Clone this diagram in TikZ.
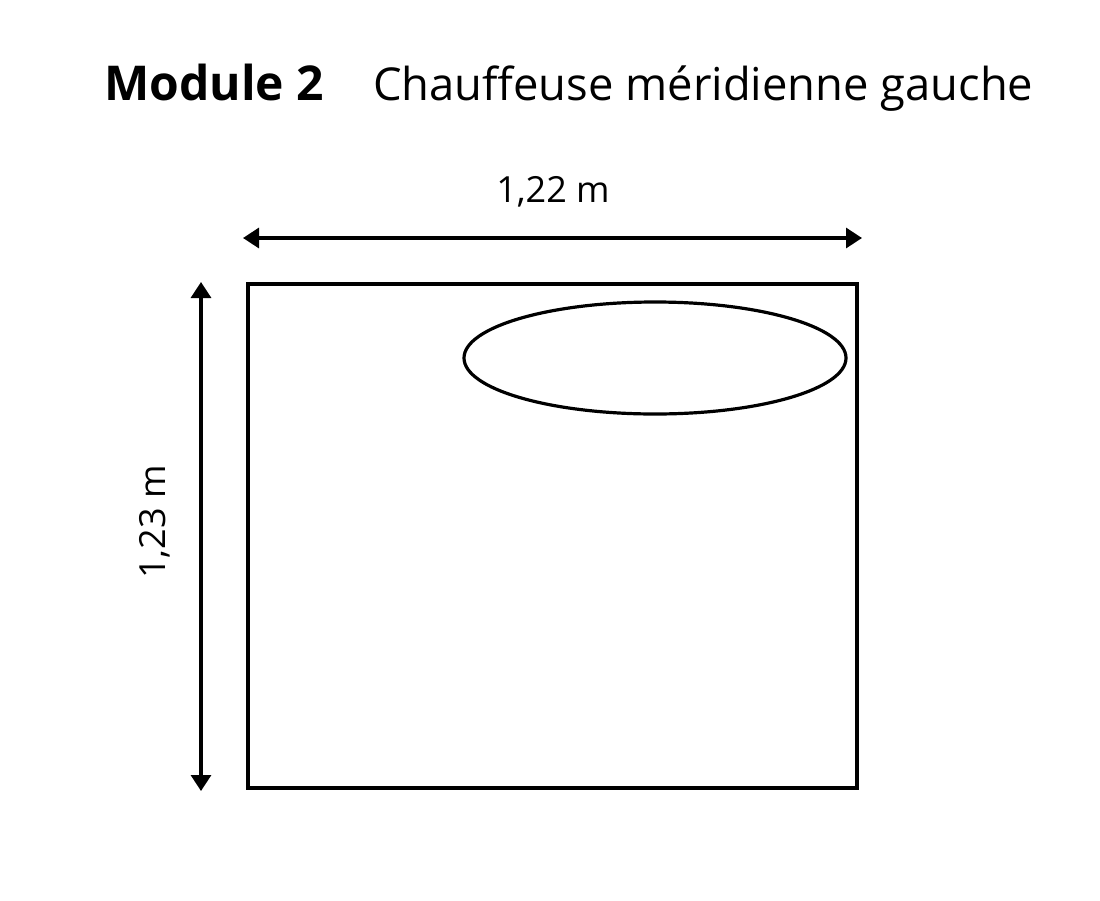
\documentclass[tikz,border=0pt]{standalone}
\usepackage{fontspec}
\setmainfont{Open Sans}
\usetikzlibrary{arrows.meta}

\tikzset{
  outline/.style={line width=2.4pt},
  dimarrow/.style={line width=2.4pt,{Triangle[length=12pt,width=15pt]}-{Triangle[length=12pt,width=15pt]}},
  dimlabel/.style={font=\fontsize{27}{32}\selectfont,inner sep=0pt}
}

\begin{document}
\begin{tikzpicture}[x=0.75pt,y=-0.75pt]
            \useasboundingbox (0,0) rectangle (1100,900);
            % Title
            \node[font=\fontsize{36}{42}\selectfont\bfseries,anchor=base west,inner sep=0pt] (modnum) at (104,100) {Module 2};
            \node[font=\fontsize{34}{40}\selectfont,anchor=base west,inner sep=0pt] (modname) at (373,100) {Chauffeuse méridienne gauche};

            % Seat outline
            \coordinate (seatnw) at (248,284);
            \coordinate (seatse) at (857,788);
            \draw[outline] (seatnw) rectangle (seatse);
            \draw[outline] (655,358) ellipse [x radius=191, y radius=56];

            % Dimensions
            \coordinate (wleft) at (243,238);
            \coordinate (wright) at (862,238);
            \draw[dimarrow] (wleft) -- (wright);
            \node[dimlabel] (width) at (553,192) {1,22 m};

            \coordinate (htop) at (201,282);
            \coordinate (hbot) at (201,791);
            \draw[dimarrow] (htop) -- (hbot);
            \node[dimlabel,rotate=90] (height) at (155,522) {1,23 m};
        \end{tikzpicture}
\end{document}
